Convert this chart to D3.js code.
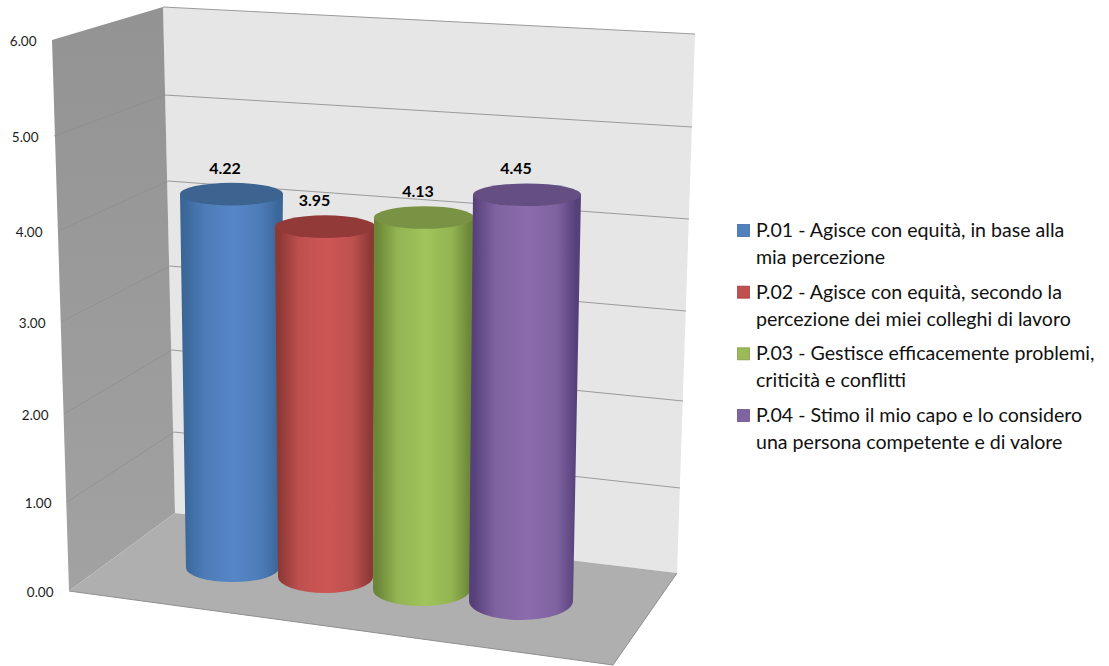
<!DOCTYPE html>
<html lang="it">
<head>
<meta charset="utf-8">
<title>Valutazione del capo</title>
<script src="https://cdn.jsdelivr.net/npm/d3@7"></script>
<style>
  html, body { margin: 0; padding: 0; background: #fff; }
  svg { display: block; }
  text { font-family: Lato, "Open Sans", sans-serif; }
</style>
</head>
<body>
<div id="chart"></div>
<script>
// Chart content
const questionCodes = ["P.01", "P.02", "P.03", "P.04"];
const scores = [4.22, 3.95, 4.13, 4.45];
const legendLines = [
  ["P.01 - Agisce con equità, in base alla", "mia percezione"],
  ["P.02 - Agisce con equità, secondo la", "percezione dei miei colleghi di lavoro"],
  ["P.03 - Gestisce efficacemente problemi,", "criticità e conflitti"],
  ["P.04 - Stimo il mio capo e lo considero", "una persona competente e di valore"]
];
const tickValues = [0, 1, 2, 3, 4, 5, 6];

const width = 1109, height = 666;
const svg = d3.select("#chart").append("svg").attr("width", width).attr("height", height);
const defs = svg.append("defs");

// The value axis is foreshortened differently along each vertical edge of the box.
const edgeRange = (values) => d3.scaleLinear().domain(tickValues).range(values);
const frontEdge = { x: edgeRange([69, 67, 64, 61, 58, 54, 52]),       y: edgeRange([591, 502, 414, 322, 231, 136, 40]) };
const backEdge  = { x: edgeRange([175, 174, 172, 170, 168, 165, 163]), y: edgeRange([513, 432, 350, 266, 181, 95, 7]) };
const rightEdge = { x: edgeRange([677, 680, 683, 686, 689, 692, 695]), y: edgeRange([573, 488, 401, 311, 219, 127, 34]) };
const floorFront = [613, 665];

// Walls and floor
const sideShade = defs.append("linearGradient").attr("id", "sideShade")
  .attr("x1", 0).attr("y1", 0).attr("x2", 0).attr("y2", 1);
sideShade.append("stop").attr("offset", 0).attr("stop-color", "#939393");
sideShade.append("stop").attr("offset", 1).attr("stop-color", "#a2a2a2");

const polygon = (pts) => "M" + pts.map(p => p.join(",")).join("L") + "Z";
const corner = (edge, v) => [edge.x(v), edge.y(v)];

svg.append("path")
  .attr("d", polygon([corner(backEdge, 6), corner(rightEdge, 6), corner(rightEdge, 0), corner(backEdge, 0)]))
  .attr("fill", "#e6e6e6");
svg.append("path")
  .attr("d", polygon([corner(frontEdge, 6), corner(backEdge, 6), corner(backEdge, 0), corner(frontEdge, 0)]))
  .attr("fill", "url(#sideShade)");
svg.append("path")
  .attr("d", polygon([corner(frontEdge, 0), corner(backEdge, 0), corner(rightEdge, 0), floorFront]))
  .attr("fill", "#afafaf");
svg.append("path")
  .attr("d", "M" + corner(frontEdge, 0).join(",") + "L" + floorFront.join(",") + "L" + corner(rightEdge, 0).join(","))
  .attr("fill", "none").attr("stroke", "#8f8f8f").attr("stroke-width", 1);

// Gridlines on the back and side walls
svg.append("g").selectAll("line").data(tickValues.slice(1)).join("line")
  .attr("x1", d => backEdge.x(d)).attr("y1", d => backEdge.y(d))
  .attr("x2", d => rightEdge.x(d)).attr("y2", d => rightEdge.y(d))
  .attr("stroke", "#9a9a9a").attr("stroke-width", 1);
svg.append("g").selectAll("line").data(tickValues.slice(1, -1)).join("line")
  .attr("x1", d => frontEdge.x(d)).attr("y1", d => frontEdge.y(d))
  .attr("x2", d => backEdge.x(d)).attr("y2", d => backEdge.y(d))
  .attr("stroke", "#8c8c8c").attr("stroke-width", 0.7);

// Value axis labels follow the front edge of the side wall
svg.append("g").selectAll("text").data(tickValues).join("text")
  .attr("x", d => frontEdge.x(d) - 15.5)
  .attr("y", d => frontEdge.y(d) + 1.5)
  .attr("dy", "0.35em")
  .attr("text-anchor", "end")
  .attr("font-size", 13.5)
  .attr("fill", "#1c1c1c")
  .text(d3.format(".2f"));

// Cylinder placement, one stop per question: each stands at its own depth in the box.
const slot = questionCodes.map((_, i) => i);
const slotScale = (values) => d3.scaleLinear().domain(slot).range(values);
const baseCx     = slotScale([232.5, 325.5, 421.5, 521]);
const baseCy     = slotScale([568, 577, 590, 601]);
const baseRx     = slotScale([46.5, 47.5, 48.5, 52]);
const baseRy     = slotScale([14, 16, 16, 19]);
const unitHeight = slotScale([88.6, 88.7, 90.2, 91.3]);
const unitLean   = slotScale([-0.24, -0.13, 0.6, 1.35]);
const unitGrowth = slotScale([1.18, 0.63, 0.36, 0.45]);
const labelShift = slotScale([-6.5, -10.5, -6, -11]);
const topRy = 11.3;

const palette = d3.scaleOrdinal().domain(questionCodes).range([
  { edge: "#3a6698", mid: "#4d7cb8", light: "#5686c6", cap: "#3d6391", swatch: "#4f81bd" },
  { edge: "#8c3835", mid: "#bd514f", light: "#ce5654", cap: "#923a38", swatch: "#c0504d" },
  { edge: "#6b8638", mid: "#93b452", light: "#a1c45b", cap: "#7a9244", swatch: "#9bbb59" },
  { edge: "#56407a", mid: "#7f63a1", light: "#8b6bac", cap: "#654e82", swatch: "#8064a2" }
]);

questionCodes.forEach((code, i) => {
  const c = palette(code);
  const g = defs.append("linearGradient").attr("id", "body" + i)
    .attr("x1", 0).attr("y1", 0).attr("x2", 1).attr("y2", 0);
  [[0, c.edge], [0.04, c.edge], [0.24, c.mid], [0.52, c.light], [0.78, c.mid], [0.96, c.edge], [1, c.edge]]
    .forEach(([o, col]) => g.append("stop").attr("offset", o).attr("stop-color", col));
});

const cylinders = scores.map((value, i) => {
  const cx = baseCx(i), cy = baseCy(i), rx = baseRx(i), ry = baseRy(i);
  return {
    code: questionCodes[i], value, i, cx, cy, rx, ry,
    topX: cx + unitLean(i) * value,
    topY: cy - unitHeight(i) * value,
    topRx: rx + unitGrowth(i) * value
  };
});

const bars = svg.append("g").selectAll("g").data(cylinders).join("g");
bars.append("path")
  .attr("d", d => `M${d.topX - d.topRx},${d.topY}` +
    `L${d.cx - d.rx},${d.cy}` +
    `A${d.rx},${d.ry} 0 0 0 ${d.cx + d.rx},${d.cy}` +
    `L${d.topX + d.topRx},${d.topY}Z`)
  .attr("fill", d => `url(#body${d.i})`);
bars.append("ellipse")
  .attr("cx", d => d.topX).attr("cy", d => d.topY)
  .attr("rx", d => d.topRx).attr("ry", topRy)
  .attr("fill", d => palette(d.code).cap);

// Value labels above each cylinder
svg.append("g").selectAll("text").data(cylinders).join("text")
  .attr("x", d => d.topX + labelShift(d.i))
  .attr("y", d => d.topY - 26)
  .attr("dy", "0.35em")
  .attr("text-anchor", "middle")
  .attr("font-size", 16)
  .attr("font-weight", 700)
  .attr("fill", "#000")
  .text(d => d3.format(".2f")(d.value));

// Legend
const legendY = d3.scalePoint().domain(questionCodes).range([230, 415]);
const legend = svg.append("g").selectAll("g").data(questionCodes).join("g")
  .attr("transform", d => `translate(0,${legendY(d)})`);
legend.append("rect")
  .attr("x", 737.5).attr("y", -5.5).attr("width", 12).attr("height", 12)
  .attr("fill", d => palette(d).swatch)
  .attr("stroke", d => d3.color(palette(d).swatch).darker(0.5))
  .attr("stroke-width", 0.8);
legend.each(function(code, i) {
  d3.select(this).selectAll("text").data(legendLines[i]).join("text")
    .attr("x", 756)
    .attr("y", (_, k) => k * 27)
    .attr("dy", "0.35em")
    .attr("font-size", 19.6)
    .attr("fill", "#111")
    .text(d => d);
});
</script>
</body>
</html>
